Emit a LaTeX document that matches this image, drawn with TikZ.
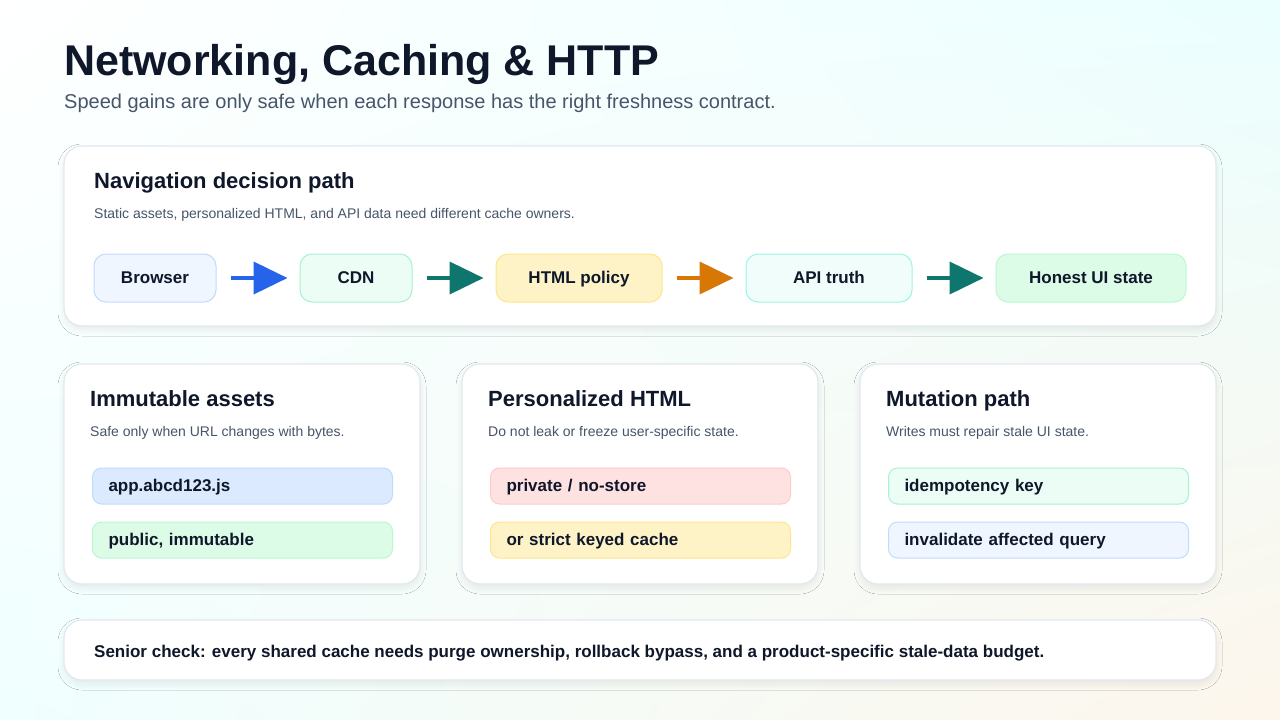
\documentclass[tikz,border=0pt]{standalone}
\usepackage{fontspec}
\setmainfont{Liberation Sans}
\usetikzlibrary{arrows.meta,positioning,shadows.blur,shadings}

\definecolor{ink}{HTML}{0F172A}
\definecolor{muted}{HTML}{475569}
\definecolor{edge}{HTML}{E2E8F0}
\definecolor{flowblue}{HTML}{2563EB}
\definecolor{flowteal}{HTML}{0F766E}
\definecolor{floworange}{HTML}{D97706}
\definecolor{bluesoft}{HTML}{EFF6FF}\definecolor{blueline}{HTML}{BFDBFE}
\definecolor{bluepill}{HTML}{DBEAFE}
\definecolor{mintsoft}{HTML}{ECFDF5}\definecolor{mintline}{HTML}{A7F3D0}
\definecolor{tealsoft}{HTML}{F0FDFA}\definecolor{tealline}{HTML}{99F6E4}
\definecolor{greensoft}{HTML}{DCFCE7}\definecolor{greenline}{HTML}{BBF7D0}
\definecolor{ambersoft}{HTML}{FEF3C7}\definecolor{amberline}{HTML}{FDE68A}
\definecolor{redsoft}{HTML}{FEE2E2}\definecolor{redline}{HTML}{FECACA}
\definecolor{peach}{HTML}{FDF6EC}

\begin{document}
\begin{tikzpicture}[
    x=1pt, y=-1pt,
    panel/.style={draw=edge, line width=1.2pt, fill=white, rounded corners=18pt, blur shadow={shadow blur steps=12, shadow blur radius=6pt, shadow xshift=0pt, shadow yshift=-4pt, shadow opacity=8}},
    flowbox/.style 2 args={draw=#2, fill=#1, line width=1pt, rounded corners=12pt, minimum height=48pt, text height=12pt, text depth=2pt, font=\fontsize{17}{20}\selectfont\bfseries, text=ink},
    pill/.style 2 args={draw=#2, fill=#1, line width=1pt, rounded corners=9pt, minimum width=300pt, minimum height=36pt, anchor=west, text width=268pt, text height=12pt, text depth=2pt, font=\fontsize{17}{20}\selectfont\bfseries, text=ink},
    cardtitle/.style={anchor=base west, inner sep=0pt, font=\fontsize{22}{26}\selectfont\bfseries, text=ink},
    cardnote/.style={anchor=base west, inner sep=0pt, font=\fontsize{14}{17}\selectfont, text=muted},
    flow/.style={line width=4pt, -{Triangle[length=34pt,width=32pt]}, shorten >=-2pt}
]
% background
\useasboundingbox (0,0) rectangle (1280,720);
\clip (0,0) rectangle (1280,720);
\shade[upper left=white, upper right=cyan!8!white, lower left=cyan!6!white, lower right=peach] (0,0) rectangle (1280,720);

% title
\node[anchor=base west, inner sep=0pt, font=\fontsize{43}{50}\selectfont\bfseries, text=ink] (title) at (64,75) {Networking, Caching \& HTTP};
\node[anchor=base west, inner sep=0pt, font=\fontsize{20}{24}\selectfont, text=muted] (subtitle) at (64,108) {Speed gains are only safe when each response has the right freshness contract.};

% navigation panel
\draw[panel] (64,146) rectangle (1216,326);
\node[cardtitle] (navtitle) at (94,188) {Navigation decision path};
\node[cardnote] (navnote) at (94,218) {Static assets, personalized HTML, and API data need different cache owners.};

\node[flowbox={bluesoft}{blueline}, minimum width=122pt] (browser) at (155,278) {Browser};
\node[flowbox={mintsoft}{mintline}, minimum width=112pt] (cdn) at (356,278) {CDN};
\node[flowbox={ambersoft}{amberline}, minimum width=166pt] (html) at (579,278) {HTML policy};
\node[flowbox={tealsoft}{tealline}, minimum width=166pt] (api) at (829,278) {API truth};
\node[flowbox={greensoft}{greenline}, minimum width=190pt] (honest) at (1091,278) {Honest UI state};

\draw[flow, flowblue] ([xshift=14pt]browser.east) -- ([xshift=-14pt]cdn.west);
\draw[flow, flowteal] ([xshift=14pt]cdn.east) -- ([xshift=-14pt]html.west);
\draw[flow, floworange] ([xshift=14pt]html.east) -- ([xshift=-14pt]api.west);
\draw[flow, flowteal] ([xshift=14pt]api.east) -- ([xshift=-14pt]honest.west);

% cards
\draw[panel] (64,364) rectangle (420,584);
\node[cardtitle] (immtitle) at (90,406) {Immutable assets};
\node[cardnote] (immnote) at (90,436) {Safe only when URL changes with bytes.};
\node[pill={bluepill}{blueline}] (hashed) at (92,486) {app.abcd123.js};
\node[pill={greensoft}{greenline}] (public) at (92,540) {public, immutable};

\draw[panel] (462,364) rectangle (818,584);
\node[cardtitle] (persontitle) at (488,406) {Personalized HTML};
\node[cardnote] (personnote) at (488,436) {Do not leak or freeze user-specific state.};
\node[pill={redsoft}{redline}] (private) at (490,486) {private / no-store};
\node[pill={ambersoft}{amberline}] (keyed) at (490,540) {or strict keyed cache};

\draw[panel] (860,364) rectangle (1216,584);
\node[cardtitle] (muttitle) at (886,406) {Mutation path};
\node[cardnote] (mutnote) at (886,436) {Writes must repair stale UI state.};
\node[pill={mintsoft}{mintline}] (idem) at (888,486) {idempotency key};
\node[pill={bluesoft}{blueline}] (invalidate) at (888,540) {invalidate affected query};

% senior check
\draw[panel] (64,620) rectangle (1216,680);
\node[anchor=base west, inner sep=0pt, font=\fontsize{17}{20}\selectfont\bfseries, text=ink] (senior) at (94,657) {Senior check: every shared cache needs purge ownership, rollback bypass, and a product-specific stale-data budget.};
\end{tikzpicture}
\end{document}
